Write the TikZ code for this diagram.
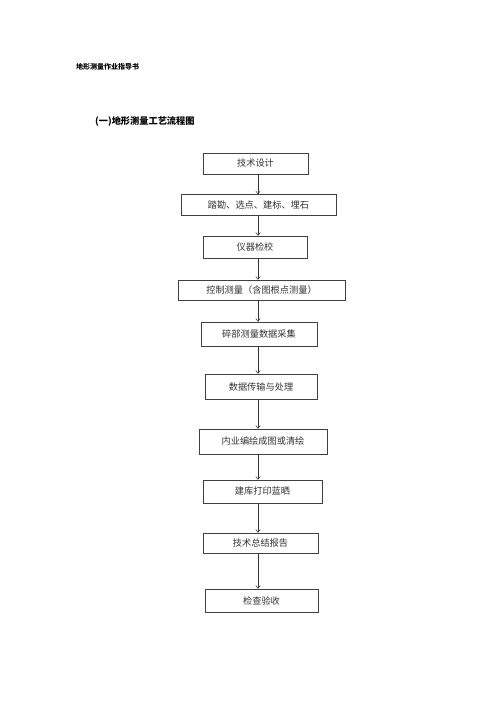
\documentclass[tikz,border=0pt]{standalone}
\usepackage{fontspec}
\newfontfamily\cjk{Noto Sans CJK SC}
\usetikzlibrary{arrows.meta}
\begin{document}
\begin{tikzpicture}[x=1pt,y=-1pt,
  stepbox/.style={draw=black!75, line width=0.6pt, inner sep=0pt, font=\cjk\fontsize{9.2}{10}\selectfont, text=black!80},
  flow/.style={draw=black!80, line width=0.5pt, -{To[length=3.5pt,width=5pt]}}]
\useasboundingbox (0,0) rectangle (496,702);
\fill[white] (0,0) rectangle (496,702);
\node[anchor=west, inner sep=0pt, font=\cjk\bfseries\fontsize{7}{8}\selectfont] (hdr) at (76,67) {地形测量作业指导书};
\node[anchor=west, inner sep=0pt, font=\cjk\bfseries\fontsize{9.2}{11}\selectfont] (ttl) at (95,121) {(一)地形测量工艺流程图};
\node[stepbox, minimum width=105, minimum height=21] (b1) at (255.5,163.5) {技术设计};
\node[stepbox, minimum width=155, minimum height=21] (b2) at (258.5,205) {踏勘、选点、建标、埋石};
\node[stepbox, minimum width=104, minimum height=22] (b3) at (255,247) {仪器检校};
\node[stepbox, minimum width=167, minimum height=20] (b4) at (261.5,290) {控制测量（含图根点测量）};
\node[stepbox, minimum width=116, minimum height=24] (b5) at (259,334) {碎部测量数据采集};
\node[stepbox, minimum width=112, minimum height=25] (b6) at (261,386.5) {数据传输与处理};
\node[stepbox, minimum width=128, minimum height=25] (b7) at (263,441.5) {内业编绘成图或清绘};
\node[stepbox, minimum width=119, minimum height=23] (b8) at (262.5,491.5) {建库打印蓝晒};
\node[stepbox, minimum width=115, minimum height=20] (b9) at (260.5,543) {技术总结报告};
\node[stepbox, minimum width=113, minimum height=23] (b10) at (261.5,600.5) {检查验收};
\foreach \a/\b in {b1/b2,b2/b3,b3/b4,b4/b5,b5/b6,b6/b7,b7/b8,b8/b9,b9/b10}{
  \draw[flow] (\a.south -| 258,0) -- (\b.north -| 258,0);
}
\end{tikzpicture}
\end{document}
